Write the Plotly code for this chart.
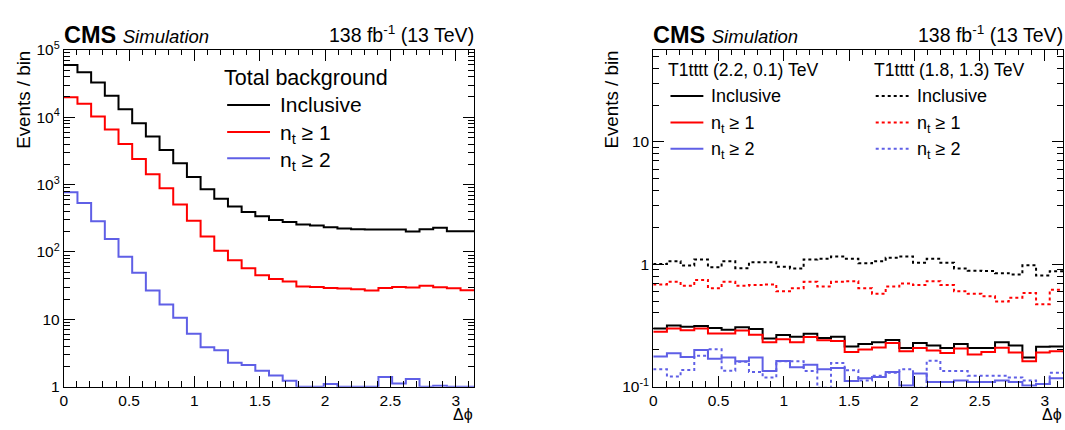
import numpy as np
import plotly.graph_objects as go

W, H = 1065, 430

# ---------------- data ----------------
n_bins = 30
edges = np.linspace(0, np.pi, n_bins + 1)

bkg_incl = [59600, 46500, 32800, 20800, 13100, 8150, 5170, 3260, 2070, 1300,
            850, 618, 472, 391, 340, 298, 278, 255, 247, 232,
            222, 217, 215, 215, 215, 201, 217, 229, 203, 203]
bkg_nt1 = [19800, 15900, 10300, 6570, 3990, 2400, 1430, 879, 505, 290,
           170, 104, 75, 57.5, 45.2, 39.6, 36.3, 30.8, 30.2, 29.2,
           28.6, 27.9, 26.8, 29.2, 30.2, 29.6, 31.5, 30, 29, 27]
bkg_nt2 = [772, 535, 286, 155, 85, 49, 26.8, 16.6, 10.5, 6.1,
           3.86, 3.46, 2.26, 2.10, 1.72, 1.46, 1.22, 1.0, 1.0, 1.09,
           1.0, 1.0, 1.0, 1.39, 1.11, 1.3, 1.0, 1.03, 1.0, 1.0]

sigA_incl = [0.298, 0.316, 0.309, 0.313, 0.302, 0.292, 0.305, 0.296, 0.247, 0.264,
             0.256, 0.271, 0.250, 0.256, 0.213, 0.223, 0.230, 0.241, 0.207, 0.227,
             0.217, 0.207, 0.223, 0.207, 0.207, 0.230, 0.217, 0.173, 0.212, 0.213]
sigA_nt1 = [0.281, 0.298, 0.289, 0.298, 0.272, 0.272, 0.287, 0.266, 0.230, 0.244,
            0.230, 0.255, 0.239, 0.236, 0.192, 0.201, 0.209, 0.227, 0.195, 0.207,
            0.197, 0.188, 0.205, 0.183, 0.192, 0.208, 0.190, 0.161, 0.190, 0.195]
sigA_nt2 = [0.176, 0.187, 0.175, 0.199, 0.169, 0.173, 0.161, 0.173, 0.134, 0.162,
            0.144, 0.151, 0.139, 0.142, 0.111, 0.117, 0.120, 0.132, 0.102, 0.128,
            0.109, 0.109, 0.112, 0.109, 0.109, 0.112, 0.109, 0.102, 0.105, 0.117]
sigB_incl = [1.006, 1.06, 0.976, 1.094, 0.947, 1.06, 0.93, 1.04, 1.04, 0.953,
             0.925, 1.094, 1.11, 1.16, 1.11, 1.018, 1.06, 1.13, 1.16, 1.03,
             1.107, 1.03, 0.925, 0.887, 0.88, 0.846, 0.826, 0.982, 0.811, 0.877]
sigB_nt1 = [0.685, 0.719, 0.669, 0.745, 0.638, 0.719, 0.666, 0.677, 0.685, 0.601,
            0.638, 0.719, 0.657, 0.719, 0.728, 0.638, 0.573, 0.657, 0.698, 0.677,
            0.728, 0.677, 0.601, 0.573, 0.549, 0.496, 0.533, 0.583, 0.472, 0.619]
sigB_nt2 = [0.139, 0.121, 0.137, 0.179, 0.202, 0.135, 0.160, 0.132, 0.119, 0.161,
            0.161, 0.134, 0.098, 0.156, 0.136, 0.112, 0.123, 0.130, 0.139, 0.098,
            0.163, 0.134, 0.134, 0.123, 0.123, 0.123, 0.119, 0.112, 0.105, 0.130]

x_tickvals = [0, 0.5, 1, 1.5, 2, 2.5, 3]
x_ticktext = ["0", "0.5", "1", "1.5", "2", "2.5", "3"]
yl_tickvals = [1, 10, 100, 1000, 1e4, 1e5]
yl_ticktext = ["1", "10", "10<sup>2</sup>", "10<sup>3</sup>", "10<sup>4</sup>", "10<sup>5</sup>"]
yr_tickvals = [0.1, 1, 10]
yr_ticktext = ["10<sup>-1</sup>", "1", "10"]

legend_labels = ["Inclusive", "n<sub>t</sub> ≥ 1", "n<sub>t</sub> ≥ 2"]
left_header = "Total background"
right_headers = ["T1tttt (2.2, 0.1) TeV", "T1tttt (1.8, 1.3) TeV"]

# ---------------- style ----------------
BLACK = "#000000"
RED = "#ff0000"
BLUE = "#5f5fe6"
colors = [BLACK, RED, BLUE]
FONT = "Liberation Sans"


def px(x):
    return x / W


def py(y):
    return 1 - y / H


def step(vals):
    return list(edges), list(vals) + [vals[-1]]


fig = go.Figure()

for vals, c in zip([bkg_incl, bkg_nt1, bkg_nt2], colors):
    xs, ys = step(vals)
    fig.add_trace(go.Scatter(x=xs, y=ys, mode="lines", line=dict(color=c, width=2, shape="hv"),
                             xaxis="x", yaxis="y", showlegend=False, hoverinfo="skip"))

for vals, c in zip([sigB_incl, sigB_nt1, sigB_nt2], colors):
    xs, ys = step(vals)
    fig.add_trace(go.Scatter(x=xs, y=ys, mode="lines",
                             line=dict(color=c, width=2, shape="hv", dash="3px,3px"),
                             xaxis="x2", yaxis="y2", showlegend=False, hoverinfo="skip"))

for vals, c in zip([sigA_incl, sigA_nt1, sigA_nt2], colors):
    xs, ys = step(vals)
    fig.add_trace(go.Scatter(x=xs, y=ys, mode="lines", line=dict(color=c, width=2, shape="hv"),
                             xaxis="x2", yaxis="y2", showlegend=False, hoverinfo="skip"))

# domains
top_px, bot_px = 40.7, 393.0
ydom = [py(bot_px), py(top_px)]
xdom1 = [px(60), px(472)]
xdom2 = [px(651.7), px(1063.4)]

x_minor = [round(0.1 * i, 1) for i in range(32) if (i % 5) != 0]


def log_minor(lo, hi):
    out = []
    for d in range(lo, hi):
        for m in range(2, 10):
            out.append(m * 10.0 ** d)
    return out


tickfont = dict(family=FONT, size=15.5, color="black")
xcommon = dict(range=[0, np.pi], tickmode="array", tickvals=x_tickvals, ticktext=x_ticktext,
               ticks="inside", ticklen=11, tickwidth=1, tickcolor="black",
               minor=dict(tickmode="array", tickvals=x_minor, ticks="inside", ticklen=5.5,
                          tickwidth=1, tickcolor="black", showgrid=False),
               showline=True, linecolor="black", linewidth=1, mirror="allticks",
               showgrid=False, zeroline=False, tickfont=tickfont, fixedrange=True)

fig.update_layout(
    width=W, height=H,
    margin=dict(l=0, r=0, t=0, b=0),
    paper_bgcolor="white", plot_bgcolor="white",
    font=dict(family=FONT, color="black"),
    xaxis=dict(domain=xdom1, anchor="y", **xcommon),
    xaxis2=dict(domain=xdom2, anchor="y2", **xcommon),
    yaxis=dict(domain=ydom, anchor="x", type="log", range=[0, 5], tickmode="array",
               tickvals=yl_tickvals, ticktext=yl_ticktext, ticks="inside", ticklen=11,
               tickwidth=1, tickcolor="black",
               minor=dict(tickmode="array", tickvals=log_minor(0, 5), ticks="inside", ticklen=6,
                          tickwidth=1, tickcolor="black", showgrid=False),
               showline=True, linecolor="black", linewidth=1, mirror="allticks",
               showgrid=False, zeroline=False, tickfont=tickfont, fixedrange=True),
    yaxis2=dict(domain=ydom, anchor="x2", type="log", range=[-1, 1.752], tickmode="array",
                tickvals=yr_tickvals, ticktext=yr_ticktext, ticks="inside", ticklen=11,
                tickwidth=1, tickcolor="black",
                minor=dict(tickmode="array", tickvals=log_minor(-1, 2), ticks="inside", ticklen=6,
                           tickwidth=1, tickcolor="black", showgrid=False),
                showline=True, linecolor="black", linewidth=1, mirror="allticks",
                showgrid=False, zeroline=False, tickfont=tickfont, fixedrange=True),
)

ann = []
shapes = []


def text(x, y, s, size, xanchor="left", yanchor="middle", angle=0):
    ann.append(dict(x=px(x), y=py(y), xref="paper", yref="paper", text=s, showarrow=False,
                    xanchor=xanchor, yanchor=yanchor, textangle=angle, borderpad=0,
                    font=dict(family=FONT, size=size, color="black")))


def keyline(x0, x1, y, color, dash="solid"):
    shapes.append(dict(type="line", xref="paper", yref="paper", x0=px(x0), x1=px(x1),
                       y0=py(y), y1=py(y), line=dict(color=color, width=2, dash=dash)))


def label_y(lab, yy, size):
    # compensate the subscript growing the text box downwards
    return yy + (0.118 * size if "<sub>" in lab else 0)


for (xl, xr) in [(60, 472), (651.7, 1063.4)]:
    text(xl - 1, 25.5, '<b>CMS</b> <span style="font-size:18.5px"><i>Simulation</i></span>', 23.5)
    text(xr + 1, 27.3 - 0.165 * 19.5, "138 fb<sup>-1</sup> (13 TeV)", 19.5, xanchor="right")
    text(xr, 421.7, "Δϕ", 16, xanchor="right")

text(20, top_px, "Events / bin", 18.8, xanchor="center", yanchor="top", angle=-90)
text(610, top_px, "Events / bin", 18.8, xanchor="center", yanchor="top", angle=-90)

# left legend
text(220, 70, left_header, 21.5)
for lab, c, yy in zip(legend_labels, colors, [98.3, 126.5, 154]):
    keyline(224, 267, yy, c)
    text(276, label_y(lab, yy, 21), lab, 21)

# right legends
text(666, 61.7, right_headers[0], 17.6)
text(872, 61.7, right_headers[1], 17.6)
for lab, c, yy in zip(legend_labels, colors, [89, 116.7, 144]):
    keyline(669, 702, yy, c)
    text(709, label_y(lab, yy, 18), lab, 18)
    keyline(875, 908, yy, c, dash="3px,3px")
    text(915, label_y(lab, yy, 18), lab, 18)

fig.update_layout(annotations=ann, shapes=shapes)
fig.write_html("out.html",
               config={"displayModeBar": False, "staticPlot": True},
               post_script="document.body.style.margin='0';document.body.style.padding='0';"
                           "document.body.style.overflow='hidden';")
